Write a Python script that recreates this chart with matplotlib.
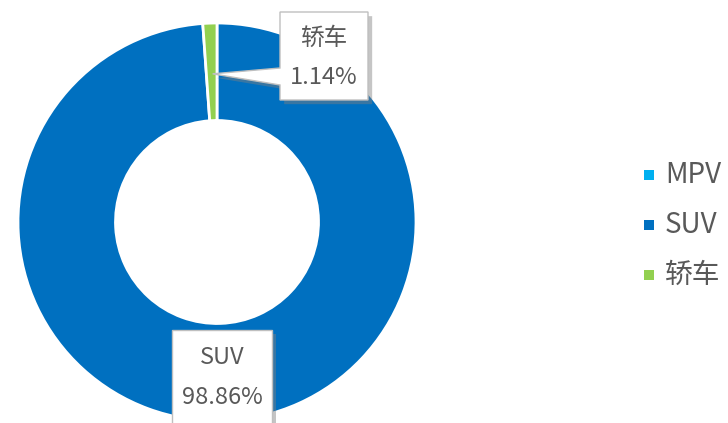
import matplotlib.pyplot as plt
import matplotlib.patheffects as pe
from matplotlib.patches import Rectangle, Polygon
import numpy as np

plt.rcParams['font.family'] = ['Noto Sans CJK SC', 'DejaVu Sans']

categories = ['MPV', 'SUV', '轿车']
shares = [0.0, 98.86, 1.14]
colors = ['#00B0F0', '#0070C0', '#92D050']

W, H = 728, 423
fig = plt.figure(figsize=(W / 100, H / 100), dpi=100)
# donut centred around (217, 222) px, outer radius ~199 px
cx, cy, R = 217, 222, 199
ax = fig.add_axes([(cx - R) / W, (H - cy - R) / H, 2 * R / W, 2 * R / H])


def px(x, y):
    # image pixel (from top-left) -> data coords of the donut axes
    return (x - cx) / R, (cy - y) / R


# zero slices are left out of the ring but kept in the legend
vals = [v for v in shares if v > 0]
cols = [c for v, c in zip(shares, colors) if v > 0]
labs = [n for v, n in zip(shares, categories) if v > 0]

wedges, _ = ax.pie(vals, colors=cols, startangle=90, counterclock=False,
                   radius=1.0, wedgeprops=dict(width=0.49, edgecolor='white', linewidth=2))
ax.set_xlim(-1, 1)
ax.set_ylim(-1, 1)
ax.set_aspect('equal')

shadow = [pe.SimplePatchShadow(offset=(3, -3), shadow_rgbFace='#7F7F7F', alpha=0.45), pe.Normal()]
txt_kw = dict(ha='center', va='center', fontsize=17, color='#595959')

# data label boxes (callout for the thin slice)
for w, name, v in zip(wedges, labs, vals):
    mid = np.deg2rad((w.theta1 + w.theta2) / 2)
    r = 1 - 0.49 / 2
    tip = (r * np.cos(mid) + 0.005, r * np.sin(mid) - 0.01)
    if name == '轿车':
        x0, x1, y0, y1 = 280, 368, 12, 100
        pts = [px(x0, y0), px(x1, y0), px(x1, y1), px(x0, y1), px(x0, 85), tip, px(x0, 68)]
        ty1, ty2 = 38, 77
    else:
        x0, x1, y0, y1 = 172, 272, 330, 428
        pts = [px(x0, y0), px(x1, y0), px(x1, y1), px(x0, y1)]
        ty1, ty2 = 357, 398
    poly = Polygon(pts, closed=True, fc='white', ec='#BFBFBF', lw=1, clip_on=False, zorder=3)
    poly.set_path_effects(shadow)
    ax.add_patch(poly)
    xm = (x0 + x1) / 2
    ax.text(*px(xm, ty1), name, zorder=4, **txt_kw)
    ax.text(*px(xm, ty2), f'{v:.2f}%', zorder=4, **txt_kw)

# legend
for i, (name, c) in enumerate(zip(categories, colors)):
    yc = 175 + 50 * i
    fig.patches.append(Rectangle((644 / W, (H - yc - 5) / H), 10 / W, 10 / H,
                                 transform=fig.transFigure, fc=c, ec='none'))
    fig.text(665 / W, (H - yc) / H, name, ha='left', va='center',
             fontsize=20, color='#595959')

fig.savefig('out.png', dpi=100)
